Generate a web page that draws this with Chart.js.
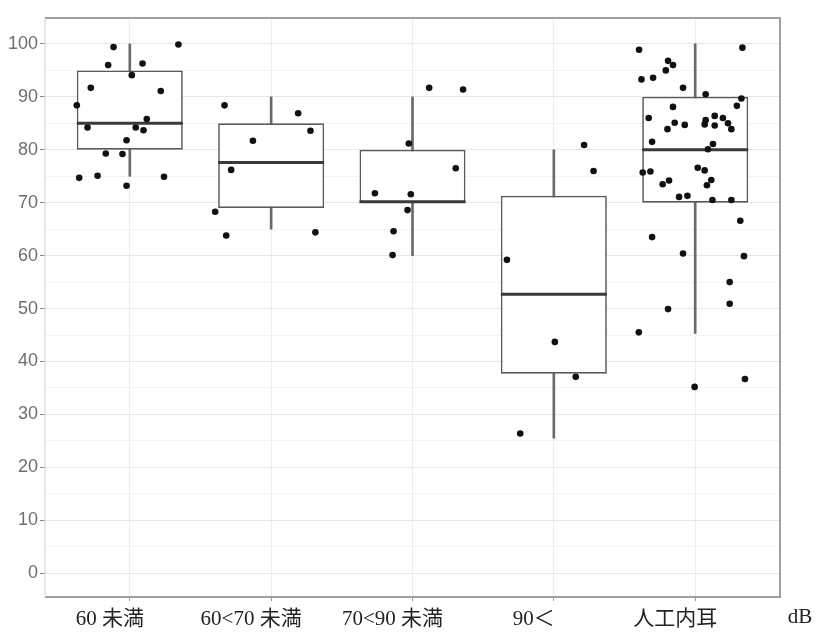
<html>
<head>
<meta charset="utf-8">
<script src="https://cdn.jsdelivr.net/npm/chart.js@4.4.1/dist/chart.umd.min.js"></script>
<style>
  body { margin: 0; background: #fff; }
  #wrap { position: relative; width: 834px; height: 644px; }
</style>
</head>
<body>
<div id="wrap"><canvas id="myChart" width="834" height="644"></canvas></div>
<script>
// categories and box statistics
const categories = ['60 未満', '60<70 未満', '70<90 未満', '90＜', '人工内耳'];
const whiskerLow  = [75, 65, 60, 25.5, 45.3];
const q1          = [80, 69, 70, 37.7, 70];
const medians     = [85, 77.6, 70.2, 52.7, 80];
const q3          = [95, 85, 80, 71.3, 90];
const whiskerHigh = [100, 90, 90, 80, 100];
const yTicks = [0, 10, 20, 30, 40, 50, 60, 70, 80, 90, 100];

// jittered observations: [x position, value]
const pts60 = [[0.885,99.4],[1.344,99.9],[0.847,96.0],[1.090,96.3],[1.014,94.1],[0.724,91.7],[1.219,91.1],
  [0.625,88.4],[1.120,85.8],[0.701,84.2],[1.042,84.2],[1.097,83.7],[0.977,81.8],[0.830,79.3],[0.948,79.2],
  [0.642,74.7],[0.772,75.1],[1.242,74.9],[0.977,73.2]];
const pts6070 = [[1.670,88.4],[2.191,86.9],[2.278,83.6],[1.871,81.7],[1.717,76.2],[1.604,68.3],[1.682,63.8],[2.313,64.4]];
const pts7090 = [[3.118,91.7],[3.358,91.4],[2.974,81.2],[3.306,76.5],[2.734,71.8],[2.988,71.6],[2.965,68.6],[2.866,64.6],[2.859,60.1]];
const pts90 = [[4.214,80.9],[4.281,76.0],[3.668,59.2],[4.007,43.7],[4.155,37.1],[3.762,26.4]];
const ptsCI = [[4.603,98.9],[5.334,99.3],[4.808,96.8],[4.843,96.0],[4.792,95.0],[4.620,93.3],[4.702,93.6],[4.914,91.7],
  [5.074,90.5],[5.327,89.7],[5.295,88.3],[4.843,88.1],[4.671,86.0],[4.855,85.1],[4.926,84.7],[4.804,83.9],
  [5.074,85.6],[5.138,86.4],[5.196,86.0],[5.067,84.8],[5.138,84.6],[5.232,85.0],[5.256,83.9],[4.695,81.5],
  [5.126,81.1],[5.090,80.1],[4.629,75.7],[4.683,75.9],[4.770,73.5],[4.815,74.2],[5.018,76.6],[5.067,76.1],
  [5.083,73.3],[5.114,74.3],[4.886,71.1],[4.945,71.3],[5.122,70.5],[5.256,70.5],[5.319,66.6],[4.695,63.5],
  [4.914,60.4],[5.345,59.9],[5.244,55.0],[5.244,50.9],[4.808,49.9],[4.601,45.5],[5.352,36.7],[4.996,35.2]];

const halfBox = 0.375;

const allPoints = [].concat(pts60, pts6070, pts7090, pts90, ptsCI).map(p => ({ x: p[0], y: p[1] }));
const boxData = categories.map((c, i) => ({ x: i + 1, y: [q1[i], q3[i]] }));
const whiskerData = categories.map((c, i) => ({ x: i + 1, y: [whiskerLow[i], whiskerHigh[i]] }));
const medianData = [];
categories.forEach((c, i) => {
  medianData.push({ x: i + 1 - halfBox, y: medians[i] });
  medianData.push({ x: i + 1 + halfBox, y: medians[i] });
  medianData.push({ x: i + 1, y: null });
});

const labelFont = { family: '"Liberation Serif", "DejaVu Serif", "Noto Sans CJK JP", serif', size: 21 };

const framePlugin = {
  id: 'frame',
  afterDraw(chart) {
    const { ctx, chartArea: a } = chart;
    ctx.save();
    ctx.strokeStyle = '#a0a0a0';
    ctx.lineWidth = 2;
    ctx.beginPath();
    ctx.moveTo(a.left, a.top); ctx.lineTo(a.right, a.top);
    ctx.lineTo(a.right, a.bottom); ctx.lineTo(a.left, a.bottom);
    ctx.stroke();
    ctx.strokeStyle = '#d0d0d0';
    ctx.lineWidth = 1;
    ctx.beginPath();
    ctx.moveTo(a.left, a.top); ctx.lineTo(a.left, a.bottom);
    ctx.stroke();
    // unit label at the end of the category labels
    ctx.fillStyle = '#222';
    ctx.font = labelFont.size + 'px ' + labelFont.family;
    ctx.textAlign = 'center';
    ctx.textBaseline = 'top';
    ctx.fillText('dB', a.right + 20, a.bottom + 10);
    ctx.restore();
  }
};

new Chart(document.getElementById('myChart'), {
  type: 'bar',
  data: {
    datasets: [
      {
        type: 'scatter',
        data: allPoints,
        pointRadius: 3.3,
        pointBackgroundColor: '#111',
        pointBorderWidth: 0,
        order: 0
      },
      {
        type: 'line',
        data: medianData,
        borderColor: '#3a3a3a',
        borderWidth: 3,
        pointRadius: 0,
        spanGaps: false,
        order: 1
      },
      {
        data: boxData,
        grouped: false,
        categoryPercentage: 1,
        barPercentage: 0.75,
        backgroundColor: '#ffffff',
        borderColor: '#5a5a5a',
        borderWidth: 1.7,
        borderSkipped: false,
        order: 2
      },
      {
        data: whiskerData,
        grouped: false,
        barThickness: 2,
        backgroundColor: '#6a6a6a',
        borderWidth: 0,
        order: 3
      }
    ]
  },
  options: {
    responsive: false,
    animation: false,
    layout: { padding: { top: 18, right: 54, left: 0, bottom: 0 } },
    plugins: { legend: { display: false }, tooltip: { enabled: false } },
    scales: {
      x: {
        type: 'linear',
        min: 0.4,
        max: 5.6,
        offset: false,
        afterBuildTicks: s => { s.ticks = categories.map((c, i) => ({ value: i + 1 })); },
        afterFit: s => { s.height = 47; },
        border: { display: false },
        grid: { color: '#ececec', lineWidth: 1, tickLength: 4, tickColor: '#9a9a9a', offset: false },
        ticks: {
          autoSkip: false,
          maxRotation: 0,
          padding: 6,
          labelOffset: -20,
          color: '#222',
          font: labelFont,
          callback: v => categories[Math.round(v) - 1]
        }
      },
      y: {
        min: -4.5,
        max: 104.9,
        afterBuildTicks: s => {
          const t = [];
          for (let v = 0; v <= 100; v += 5) t.push({ value: v });
          s.ticks = t;
        },
        afterFit: s => { s.width = 45; },
        border: { display: false },
        grid: {
          color: c => (c.tick && c.tick.value % 10 === 0) ? '#e6e6e6' : '#f3f3f3',
          tickColor: c => (c.tick && c.tick.value % 10 === 0) ? '#8a8a8a' : 'rgba(0,0,0,0)',
          tickLength: 5
        },
        ticks: {
          padding: 2,
          color: '#6e6e6e',
          font: { family: '"Liberation Sans", Arial, sans-serif', size: 18 },
          callback: v => yTicks.includes(v) ? String(v) : ''
        }
      }
    }
  },
  plugins: [framePlugin]
});
</script>
</body>
</html>
